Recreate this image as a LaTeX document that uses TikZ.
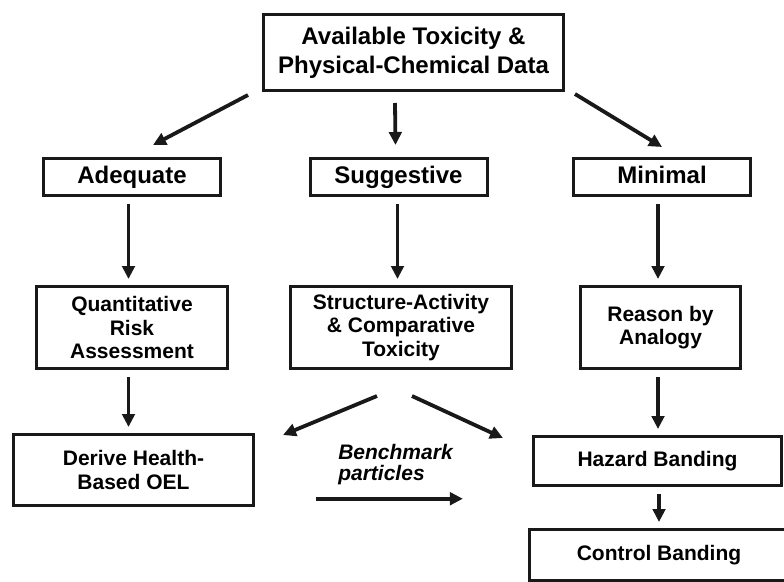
\documentclass[tikz,border=0pt]{standalone}
\usepackage{fontspec}
\setmainfont{Liberation Sans}
\usetikzlibrary{arrows.meta}
\tikzset{
  every box/.style={draw=boxline,line width=3pt},
  flow/.style={draw=boxline,line width=3.8pt,-{Triangle[length=13pt,width=12.5pt]}},
}
\colorlet{boxline}{black!90}

\begin{document}
\begin{tikzpicture}[
  x=1pt,y=-1pt,
  every node/.style={inner sep=0pt,align=center},
  source/.style={every box,font=\fontsize{24}{29}\selectfont\bfseries},
  level/.style={source,minimum width=177pt,minimum height=37pt,text height=17pt,text depth=5pt},
  method/.style={every box,minimum height=82pt,font=\fontsize{21}{23.5}\selectfont\bfseries},
  outcome/.style={method,minimum height=49pt,text height=15pt,text depth=4pt},
  vert/.style={flow,shorten <=7pt,shorten >=6pt},
]
\clip (0,0) rectangle (784,581);
% data source and the three levels
\node[source,minimum width=300pt,minimum height=76pt] (data) at (413.5,52.5)
  {Available Toxicity \&\\Physical-Chemical Data};
\node[level] (adequate) at (132,177) {Adequate};
\node[level] (suggestive) at (398.5,177) {Suggestive};
\node[level] (minimal) at (662,177) {Minimal};
% methods
\node[method,minimum width=191pt] (qra) at (132,327.5) {Quantitative\\Risk\\Assessment};
\node[method,minimum width=221pt] (sar) at (401,327.5) {Structure-Activity\\\& Comparative\\Toxicity};
\node[method,minimum width=160pt] (analogy) at (660.5,327.5) {Reason by\\Analogy};
% outcomes
\node[method,minimum width=240pt,minimum height=71pt] (oel) at (133.5,470) {Derive Health-\\Based OEL};
\node[outcome,minimum width=248pt] (hazard) at (657.5,461) {Hazard Banding};
\node[outcome,minimum width=259pt,minimum height=51pt] (control) at (659,555) {Control Banding};
\node[font=\fontsize{21}{20.5}\selectfont\bfseries\itshape,align=left] (bench) at (395.5,464.5)
  {Benchmark\\particles};

\draw[flow] ([shift={(-14,3)}]data.south west) -- ([shift={(21,-12)}]adequate.north);
\draw[flow] ([shift={(-18.5,11)}]data.south) -- ([shift={(-3,-12)}]suggestive.north);
\draw[flow] ([shift={(10,2)}]data.south east) -- ([shift={(0,-10)}]minimal.north);
\foreach \a/\b/\s in {adequate/qra/-3.5,suggestive/sar/-1,minimal/analogy/-4,
    qra/oel/-3.5,analogy/hazard/-2.5,hazard/control/1.5}
  \draw[vert] ([xshift=\s pt]\a.south) -- ([xshift=\s pt]\a.south |- \b.north);
\draw[flow] ([shift={(-24,26)}]sar.south) -- ([shift={(28,2)}]oel.north east);
\draw[flow] ([shift={(11,26)}]sar.south) -- ([shift={(-29,3)}]hazard.north west);
\draw[flow] ([shift={(-22,14)}]bench.south west) -- ([shift={(10,14)}]bench.south east);
\end{tikzpicture}
\end{document}
